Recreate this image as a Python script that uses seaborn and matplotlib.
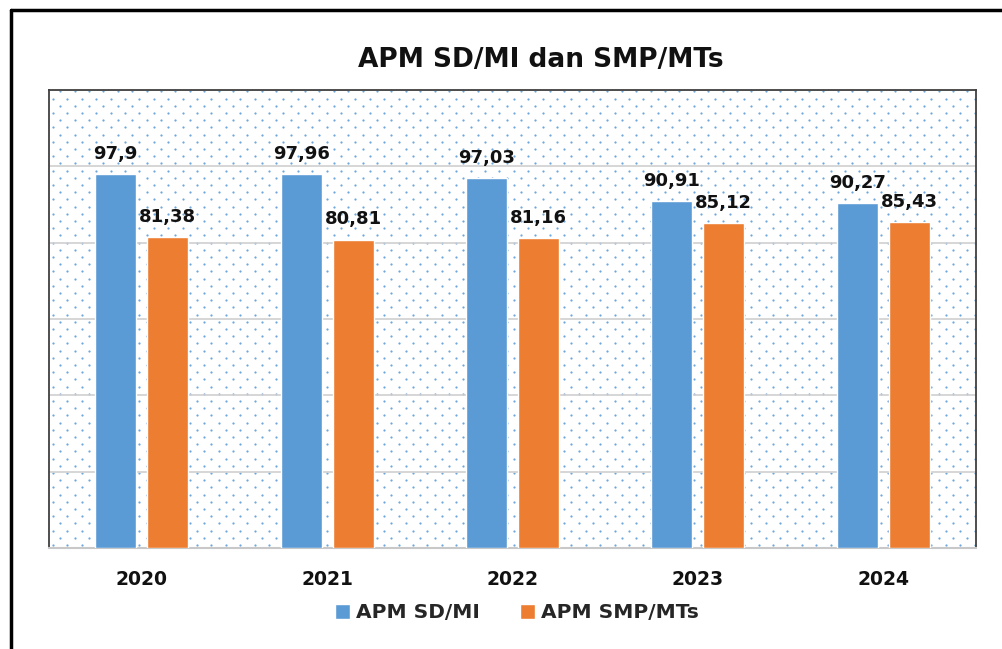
import numpy as np
import pandas as pd
import matplotlib
matplotlib.use("Agg")
import matplotlib.pyplot as plt
import seaborn as sns
from matplotlib.lines import Line2D

years = ["2020", "2021", "2022", "2023", "2024"]
apm_sd = [97.9, 97.96, 97.03, 90.91, 90.27]
apm_smp = [81.38, 80.81, 81.16, 85.12, 85.43]
series_names = ["APM SD/MI", "APM SMP/MTs"]
sd_labels = ["97,9", "97,96", "97,03", "90,91", "90,27"]
smp_labels = ["81,38", "80,81", "81,16", "85,12", "85,43"]
colors = ["#5B9BD5", "#ED7D31"]

df = pd.DataFrame({
    "Tahun": years * 2,
    "Nilai": apm_sd + apm_smp,
    "Seri": [series_names[0]] * len(years) + [series_names[1]] * len(years),
})

sns.set_theme(style="white")
plt.rcParams["font.family"] = ["DejaVu Sans"]

W, H = 1003, 649
fig = plt.figure(figsize=(W / 100, H / 100), dpi=100)
ax = fig.add_axes([49 / W, 1 - 548 / H, (976 - 49) / W, (548 - 90) / H])

# dotted background pattern (decoration)
ax_w, ax_h = 976 - 49, 548 - 90
pts = []
sp = 7.2
for j, yy in enumerate(np.arange(3, ax_h, sp)):
    off = 0 if j % 2 == 0 else sp
    for xx in np.arange(4 + off, ax_w, 2 * sp):
        pts.append((xx / ax_w, yy / ax_h))
pts = np.array(pts)
ax.scatter(pts[:, 0], pts[:, 1], s=2.6, color="#6FA6DC", transform=ax.transAxes,
           zorder=0, linewidths=0)

sns.barplot(data=df, x="Tahun", y="Nilai", hue="Seri", palette=colors,
            width=0.56, gap=0.21, ax=ax, zorder=3, saturation=1, legend=True)

ax.set_ylim(0, 120)
ax.set_yticks([0, 20, 40, 60, 80, 100, 120])
ax.yaxis.grid(True, color="#D0D0D0", linewidth=1.2)
for gl in ax.get_ygridlines():
    gl.set_zorder(1)
ax.tick_params(axis="y", left=False, labelleft=False)
ax.tick_params(axis="x", bottom=False, pad=17)
ax.set_xlabel("")
ax.set_ylabel("")
for lbl in ax.get_xticklabels():
    lbl.set_fontweight("bold")
    lbl.set_fontsize(13.5)
    lbl.set_color("#111111")
    lbl.set_va("center")

for s in ["left", "right", "top"]:
    ax.spines[s].set_color("#404040")
    ax.spines[s].set_linewidth(1.3)
ax.spines["bottom"].set_color("#C8C8C8")
ax.spines["bottom"].set_linewidth(1.5)

for cont, labs in zip(ax.containers, [sd_labels, smp_labels]):
    ax.bar_label(cont, labels=labs, padding=8, fontsize=13, fontweight="bold",
                 color="#111111")

handles, labels = ax.get_legend_handles_labels()
ax.legend(handles, labels, loc="center", bbox_to_anchor=(517 / W, 1 - 613 / H),
          bbox_transform=fig.transFigure, ncol=2, frameon=False,
          prop={"weight": "bold", "size": 14.5}, handlelength=0.75, handleheight=0.75,
          handletextpad=0.3, columnspacing=2.0)

fig.text(541 / W, 1 - 60 / H, "APM SD/MI dan SMP/MTs", ha="center", va="center",
         fontsize=19, fontweight="bold", color="#111111")

# outer border (left and top visible)
fig.add_artist(Line2D([11 / W, 11 / W], [0, 1 - 10 / H], transform=fig.transFigure,
                      color="black", linewidth=2.5))
fig.add_artist(Line2D([11 / W, 1.0], [1 - 10 / H, 1 - 10 / H], transform=fig.transFigure,
                      color="black", linewidth=2.5))

fig.savefig("out.png", dpi=100, facecolor="white")
